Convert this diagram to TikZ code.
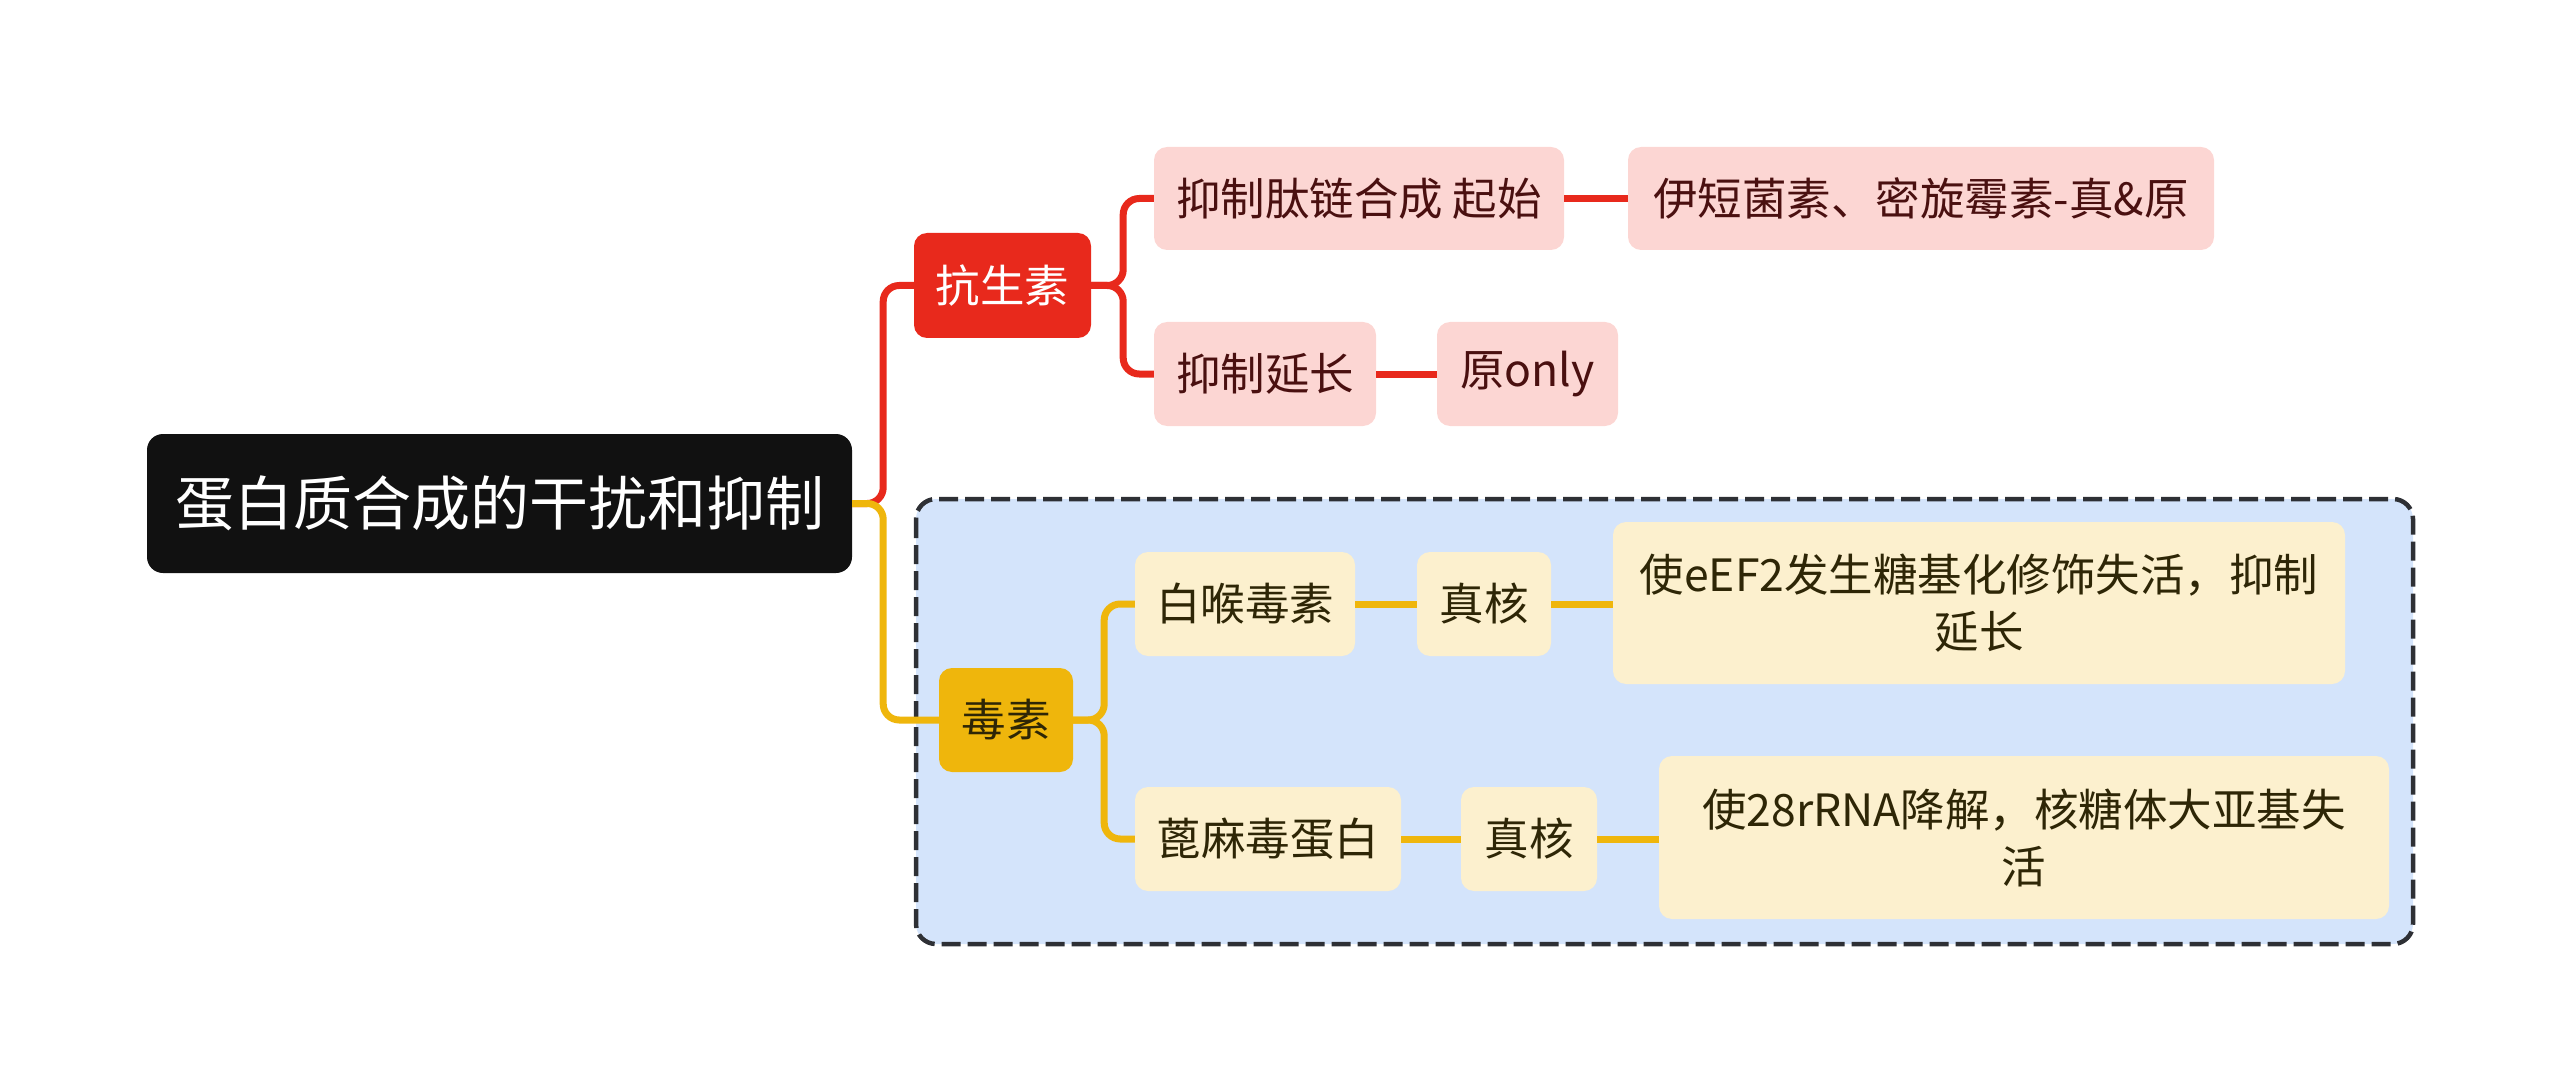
\documentclass[tikz,border=0pt]{standalone}
\usepackage{fontspec}
\setmainfont{Noto Sans CJK SC}
\definecolor{redc}{HTML}{E8291C}
\definecolor{pinkf}{HTML}{FCD6D3}
\definecolor{pinkt}{HTML}{4A1010}
\definecolor{goldc}{HTML}{EFB60C}
\definecolor{creamf}{HTML}{FCF0CE}
\definecolor{creamt}{HTML}{2E2606}
\definecolor{bluef}{HTML}{D4E4FB}
\definecolor{rootf}{HTML}{111111}
\definecolor{dashc}{HTML}{2E3035}
\tikzset{
  base/.style={rounded corners=13pt, inner sep=0pt, align=center, font=\fontsize{44.5}{57}\selectfont},
  rootbox/.style={base, fill=rootf, text=white, rounded corners=16pt, font=\fontsize{59}{70}\selectfont},
  redbox/.style={base, fill=redc, text=white},
  pinkbox/.style={base, fill=pinkf, text=pinkt},
  goldbox/.style={base, fill=goldc, text=creamt},
  creambox/.style={base, fill=creamf, text=creamt},
  redline/.style={draw=redc, line width=7pt, rounded corners=16pt},
  goldline/.style={draw=goldc, line width=7pt, rounded corners=16pt},
}
\begin{document}
\begin{tikzpicture}[x=1pt, y=-1pt]
\useasboundingbox (0,0) rectangle (2560,1091);
% dashed group
\draw[fill=bluef, draw=dashc, line width=4.5pt, dash pattern=on 19pt off 7pt, rounded corners=20pt] (916,499) rectangle (2413,944);

\node[rootbox, minimum width=705pt, minimum height=139pt] (root) at (499.5,503.5) {蛋白质合成的干扰和抑制};
\node[redbox, minimum width=177pt, minimum height=105pt] (ks) at (1002.5,285.5) {抗生素};
\node[pinkbox, minimum width=410pt, minimum height=103pt] (a1) at (1359,198.5) {抑制肽链合成 起始};
\node[pinkbox, minimum width=586pt, minimum height=103pt] (a1b) at (1921,198.5) {伊短菌素、密旋霉素-真\&原};
\node[pinkbox, minimum width=222pt, minimum height=104pt] (a2) at (1265,374) {抑制延长};
\node[pinkbox, minimum width=181pt, minimum height=104pt] (a2b) at (1527.5,374) {原only};

\node[goldbox, minimum width=134pt, minimum height=104pt] (ds) at (1006,720) {毒素};
\node[creambox, minimum width=220pt, minimum height=104pt] (b1) at (1245,604) {白喉毒素};
\node[creambox, minimum width=134pt, minimum height=104pt] (b1b) at (1484,604) {真核};
\node[creambox, minimum width=732pt, minimum height=162pt] (b1c) at (1979,603) {使eEF2发生糖基化修饰失活，抑制\\延长};
\node[creambox, minimum width=266pt, minimum height=104pt] (b2) at (1268,839) {蓖麻毒蛋白};
\node[creambox, minimum width=136pt, minimum height=104pt] (b2b) at (1529,839) {真核};
\node[creambox, minimum width=730pt, minimum height=163pt] (b2c) at (2024,837.5) {使28rRNA降解，核糖体大亚基失\\活};

% connectors
\draw[redline] (root.east) -- ++(31,0) |- (ks.west);
\draw[goldline] (root.east) -- ++(31,0) |- (ds.west);
\draw[redline] (ks.east) -- ++(32,0) |- (a1.west);
\draw[redline] (ks.east) -- ++(32,0) |- (a2.west);
\draw[redline] (a1.east) -- (a1b.west);
\draw[redline] (a2.east) -- (a2b.west);
\draw[goldline] (ds.east) -- ++(31,0) |- (b1.west);
\draw[goldline] (ds.east) -- ++(31,0) |- (b2.west);
\draw[goldline] (b1.east) -- (b1b.west);
\draw[goldline] (b1b.east) -- (b1b.east -| b1c.west);
\draw[goldline] (b2.east) -- (b2b.west);
\draw[goldline] (b2b.east) -- (b2b.east -| b2c.west);
\end{tikzpicture}
\end{document}
